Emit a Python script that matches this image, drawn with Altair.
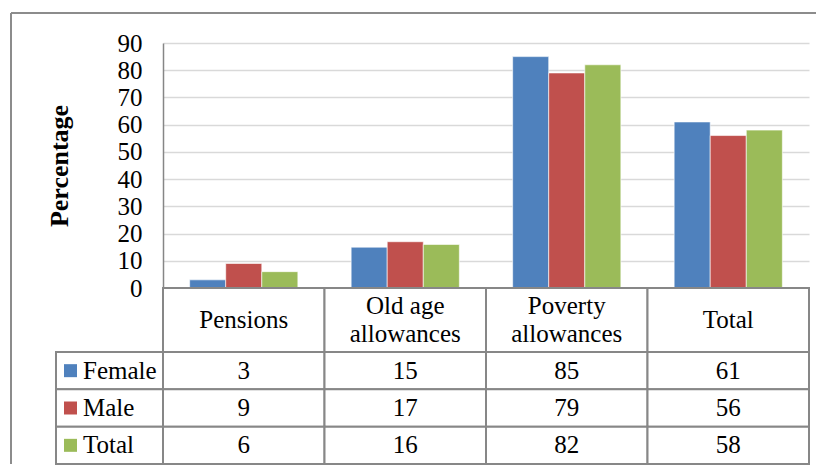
import altair as alt
import pandas as pd

# ---- data ----
categories = ["Pensions", "Old age allowances", "Poverty allowances", "Total"]
header_labels = ["Pensions", "Old age\nallowances", "Poverty\nallowances", "Total"]
series = ["Female", "Male", "Total"]
female = [3, 15, 85, 61]
male = [9, 17, 79, 56]
total = [6, 16, 82, 58]
y_ticks = [0, 10, 20, 30, 40, 50, 60, 70, 80, 90]
colors = ["#4F81BD", "#C0504D", "#9BBB59"]

FONT = "Liberation Serif"
BORDER = "#878787"
FS = 25
LINE_H = 28

PLOT_W, PLOT_H = 646, 245
LEG_W = 107
HEAD_H = 64
TABLE_H = 112

rows = []
for s, vals in zip(series, [female, male, total]):
    for c, v in zip(categories, vals):
        rows.append({"category": c, "series": s, "value": v})
df = pd.DataFrame(rows)

header_df = pd.DataFrame({
    "category": categories,
    "label": header_labels,
    "nlines": [lbl.count("\n") + 1 for lbl in header_labels],
    "row": ["h"] * len(categories),
})
legend_df = pd.DataFrame({"series": series, "col": ["c"] * len(series)})

color_scale = alt.Scale(domain=series, range=colors)
cat_table_x = alt.X("category:N", sort=categories,
                    scale=alt.Scale(domain=categories, paddingInner=0, paddingOuter=0), axis=None)

# ---- bar chart ----
bars = alt.Chart(df).mark_bar(stroke="white", strokeWidth=1, strokeOpacity=0.6).encode(
    x=alt.X("category:N", sort=categories,
            scale=alt.Scale(domain=categories, paddingInner=0.33, paddingOuter=0.165), axis=None),
    xOffset=alt.XOffset("series:N", sort=series,
                        scale=alt.Scale(domain=series, paddingInner=0, paddingOuter=0)),
    y=alt.Y("value:Q", scale=alt.Scale(domain=[0, 90], nice=False),
            axis=alt.Axis(values=y_ticks, ticks=False, domainColor="#868686", domainWidth=1.5,
                          gridColor="#d9d9d9", gridWidth=1.5, labelFont=FONT, labelFontSize=FS,
                          labelColor="black", labelPadding=21, title="Percentage",
                          titleFont=FONT, titleFontSize=26, titleFontWeight="bold",
                          titleColor="black", titlePadding=45)),
    color=alt.Color("series:N", scale=color_scale, legend=None),
).properties(width=PLOT_W, height=PLOT_H)

# ---- header row of the data table ----
head_y = alt.Y("row:N", axis=None, scale=alt.Scale(paddingInner=0, paddingOuter=0))
header = alt.layer(
    alt.Chart(header_df).mark_rect(fill="white", stroke=BORDER, strokeWidth=2).encode(
        x=cat_table_x, y=head_y),
    alt.Chart(header_df).transform_filter("datum.nlines == 1").mark_text(
        font=FONT, fontSize=FS, color="black").encode(x=cat_table_x, y=head_y, text="label:N"),
    alt.Chart(header_df).transform_filter("datum.nlines == 2").mark_text(
        font=FONT, fontSize=FS, color="black", lineBreak="\n", lineHeight=LINE_H,
        dy=-LINE_H / 2).encode(x=cat_table_x, y=head_y, text="label:N"),
).properties(width=PLOT_W, height=HEAD_H)

# ---- values of the data table ----
ser_y = alt.Y("series:N", sort=series, axis=None,
              scale=alt.Scale(domain=series, paddingInner=0, paddingOuter=0))
values = alt.layer(
    alt.Chart(df).mark_rect(fill="white", stroke=BORDER, strokeWidth=2).encode(x=cat_table_x, y=ser_y),
    alt.Chart(df).mark_text(font=FONT, fontSize=FS, color="black").encode(
        x=cat_table_x, y=ser_y, text="value:Q"),
).properties(width=PLOT_W, height=TABLE_H)

# ---- legend column ----
leg_x = alt.X("col:N", axis=None, scale=alt.Scale(paddingInner=0, paddingOuter=0))
legend = alt.layer(
    alt.Chart(legend_df).mark_rect(fill="white", stroke=BORDER, strokeWidth=2).encode(x=leg_x, y=ser_y),
    alt.Chart(legend_df).mark_square(size=169, opacity=1).encode(
        x=alt.value(14.5), y=ser_y,
        color=alt.Color("series:N", scale=color_scale, legend=None)),
    alt.Chart(legend_df).mark_text(font=FONT, fontSize=FS, color="black", align="left").encode(
        x=alt.value(27), y=ser_y, text="series:N"),
).properties(width=LEG_W, height=TABLE_H)

# ---- spacers (top-left one also carries the outer chart frame) ----
one = pd.DataFrame({"k": [0]})
frame = alt.layer(
    alt.Chart(one).mark_rule(color="#8c8c8c", strokeWidth=2).encode(
        x=alt.value(-45), x2=alt.value(760), y=alt.value(-30)),
    alt.Chart(one).mark_rule(color="#8c8c8c", strokeWidth=2).encode(
        x=alt.value(-45), y=alt.value(-30), y2=alt.value(421)),
).properties(width=LEG_W, height=PLOT_H)
spacer2 = alt.Chart(one).mark_point(opacity=0).encode(
    x=alt.value(0), y=alt.value(0)).properties(width=LEG_W, height=HEAD_H)

chart = alt.concat(frame, bars, spacer2, header, legend, values,
                   columns=2, spacing=0, bounds="flush").configure_view(
    stroke=None).properties(padding={"left": 2, "top": 4, "right": 0, "bottom": 0})

chart.save("out.html", embed_options={"renderer": "svg", "actions": False})
